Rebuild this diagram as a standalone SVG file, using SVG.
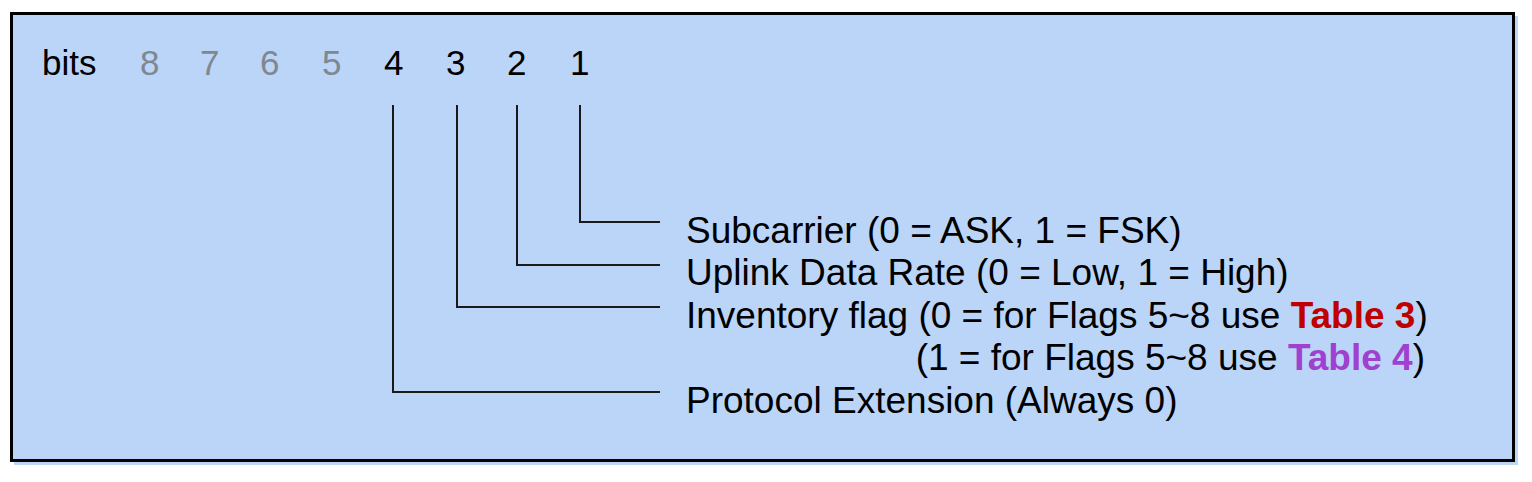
<svg xmlns="http://www.w3.org/2000/svg" width="1532" height="482" viewBox="0 0 1532 482">
<style>
text{font-family:"Liberation Sans",Arial,sans-serif;font-size:35px;fill:#000}
.t{font-size:37px}
.g{fill:#7f8791}
.conn{fill:none;stroke:#1a1a1a;stroke-width:2}
.red{fill:#c00000;font-weight:bold}
.pur{fill:#a040d0;font-weight:bold}
</style>
<rect x="14" y="16" width="1504" height="449" fill="#bcd6f8"/>
<rect x="11.5" y="13.5" width="1502" height="447" fill="#bad5f8" stroke="#000" stroke-width="3"/>
<g id="bits">
<text x="42" y="75">bits</text>
<text class="g" x="140" y="75">8</text>
<text class="g" x="200" y="75">7</text>
<text class="g" x="260" y="75">6</text>
<text class="g" x="322" y="75">5</text>
<text x="384" y="75">4</text>
<text x="446" y="75">3</text>
<text x="507" y="75">2</text>
<text x="570" y="75">1</text>
</g>
<g id="connectors">
<path class="conn" d="M580,105V222H660"/>
<path class="conn" d="M517,105V265H660"/>
<path class="conn" d="M457,105V307H660"/>
<path class="conn" d="M393,105V392H660"/>
</g>
<g id="n1"><text class="t" x="686" y="243">Subcarrier (0 = ASK, 1 = FSK)</text></g>
<g id="n2"><text class="t" x="686" y="285">Uplink Data Rate (0 = Low, 1 = High)</text></g>
<g id="n3"><text class="t" x="686" y="328">Inventory flag (0 = for Flags 5~8 use <tspan class="red">Table 3</tspan>)</text>
<text class="t" x="1425" y="370" text-anchor="end">(1 = for Flags 5~8 use <tspan class="pur">Table 4</tspan>)</text></g>
<g id="n4"><text class="t" x="686" y="413">Protocol Extension (Always 0)</text></g>
</svg>
